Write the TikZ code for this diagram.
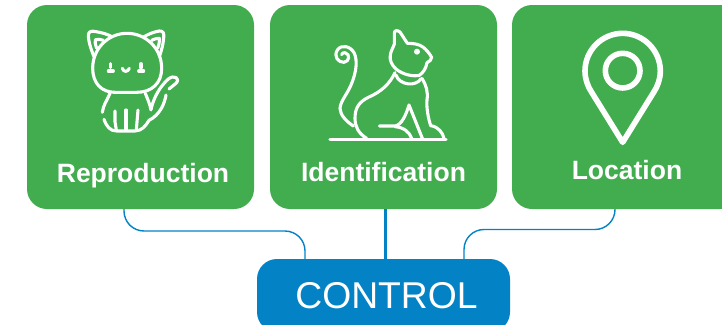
\documentclass[tikz,border=0pt]{standalone}
\usepackage{fontspec}
\setmainfont{Liberation Sans}
\definecolor{cardgreen}{HTML}{41AD4E}
\definecolor{ctrlblue}{HTML}{0382C5}
\tikzset{
  card/.style={fill=cardgreen,rounded corners=20pt,minimum height=204pt,inner sep=0pt},
  ctrlbox/.style={fill=ctrlblue,rounded corners=20pt,inner sep=0pt,minimum width=253pt,minimum height=73pt},
  cardtext/.style={text=white,inner sep=0pt,anchor=base,font=\fontsize{26.5pt}{30pt}\selectfont\bfseries},
  ctrltext/.style={text=white,inner sep=0pt,font=\fontsize{37.3pt}{42pt}\selectfont},
  thinlink/.style={draw=ctrlblue,line width=1.4pt,rounded corners=20pt},
  thicklink/.style={draw=ctrlblue,line width=3pt},
  icon/.style={draw=white,line cap=round,line join=round,line width=3.1pt},
}
\begin{document}
\begin{tikzpicture}[x=1pt,y=-1pt]
\useasboundingbox (0,0) rectangle (722,324);
\clip (0,0) rectangle (722,324);
\node[card,minimum width=227pt] (repro) at (140.5,107) {};
\node[card,minimum width=227pt] (ident) at (383.5,107) {};
\node[card,minimum width=228pt] (loc) at (626,107) {};
\node[ctrlbox] (ctrl) at (383.5,295.5) {};
\node[cardtext] (reprotext) at (143,182.6) {Reproduction};
\node[cardtext] (identtext) at (383.5,181.4) {Identification};
\node[cardtext] (loctext) at (627,179.4) {Location};
\node[ctrltext] (ctrltext) at (386.5,296) {CONTROL};
% connectors
\draw[thinlink] ([xshift=-16.5pt]repro.south) |- (305,231) -- (ctrl.north -| 305,0);
\draw[thinlink] ([xshift=-11pt]loc.south) |- (464,229.5) -- (ctrl.north -| 464,0);
\draw[thicklink] ([xshift=1.5pt]ident.south) -- ([xshift=1.5pt]ctrl.north);
% sitting cat
\begin{scope}[shift={(70,15)},x=0.3333pt,y=-0.3333pt,icon]
\draw (72,125) .. controls (60,95) and (55,75) .. (55,62) .. controls (55,48) and (65,47) .. (78,50) .. controls (95,53) and (112,57) .. (125,65);
\draw (222,65) .. controls (240,55) and (255,50) .. (268,48) .. controls (280,47) and (283,55) .. (281,70) .. controls (279,90) and (275,105) .. (268,125);
\draw (80,100) .. controls (76,88) and (74,80) .. (76,74) .. controls (85,72) and (93,73) .. (100,76);
\draw (245,76) .. controls (252,72) and (260,70) .. (268,70) .. controls (269,82) and (266,92) .. (263,100);
\draw (68,160) .. controls (68,100) and (115,55) .. (171,55) .. controls (228,55) and (275,100) .. (275,160) .. controls (275,205) and (245,232) .. (200,232) -- (135,232) .. controls (95,232) and (68,205) .. (68,160) -- cycle;
\draw (122,146) -- (122,158) (115,168) -- (130,168);
\draw (213,146) -- (213,158) (206,168) -- (221,168);
\draw (157,160) .. controls (160,172) and (174,172) .. (178,160);
\draw (120,235) .. controls (110,258) and (100,270) .. (97,292);
\draw (102,313) .. controls (110,335) and (120,348) .. (140,348) -- (195,348) .. controls (215,348) and (228,332) .. (237,316);
\draw (226,235) .. controls (232,250) and (240,268) .. (243,285);
\draw (135,288) -- (135,320) -- (139,345);
\draw (168,285) -- (168,345);
\draw (204,285) -- (199,345);
\draw (243,283) .. controls (252,245) and (270,215) .. (295,192) .. controls (312,178) and (332,190) .. (318,205) -- (297,222);
\draw (288,240) .. controls (284,265) and (270,300) .. (237,316);
\end{scope}
% profile cat
\begin{scope}[shift={(320,20)},x=0.3333pt,y=-0.3333pt,icon]
\draw (30,358) -- (378,358);
\draw (100,318) .. controls (80,305) and (60,285) .. (60,265) .. controls (62,240) and (85,220) .. (97,185) .. controls (110,150) and (112,120) .. (103,100) .. controls (92,78) and (65,72) .. (52,90) .. controls (40,110) and (55,128) .. (72,127) .. controls (88,125) and (92,103) .. (75,98) .. controls (70,97) and (66,100) .. (65,104);
\draw (140,355) .. controls (115,340) and (105,320) .. (105,295) .. controls (105,260) and (120,245) .. (145,232) .. controls (185,215) and (210,190) .. (225,158);
\draw (223,72) -- (223,40) .. controls (223,30) and (232,30) .. (240,36) -- (262,70) .. controls (280,70) and (298,72) .. (310,82) .. controls (320,90) and (328,100) .. (335,112) .. controls (335,120) and (328,124) .. (321,128) .. controls (318,145) and (310,158) .. (298,166) .. controls (280,170) and (250,165) .. (228,147) .. controls (215,135) and (208,120) .. (211,105) .. controls (213,92) and (220,82) .. (223,72);
\draw (228,165) .. controls (238,197) and (290,200) .. (303,176);
\draw (306,175) .. controls (318,195) and (325,215) .. (321,240) .. controls (319,265) and (325,295) .. (332,317) .. controls (355,320) and (368,338) .. (372,355);
\draw (267,255) -- (307,355);
\draw (267,255) .. controls (258,285) and (245,315) .. (225,318) -- (178,318);
\draw (225,320) .. controls (250,322) and (268,335) .. (275,355);
\fill[white,draw=none] (291,95) circle[radius=9];
\end{scope}
% pin
\begin{scope}[shift={(560,15)},x=0.3333pt,y=-0.3333pt,icon,line width=5.6pt]
\draw (75,168) .. controls (75,106) and (126,55) .. (188,55) .. controls (250,55) and (301,106) .. (301,168) .. controls (301,192) and (293,214) .. (281,232) -- (188,382) -- (95,232) .. controls (83,214) and (75,192) .. (75,168) -- cycle;
\draw (188,167) circle[radius=52];
\end{scope}
\end{tikzpicture}
\end{document}
